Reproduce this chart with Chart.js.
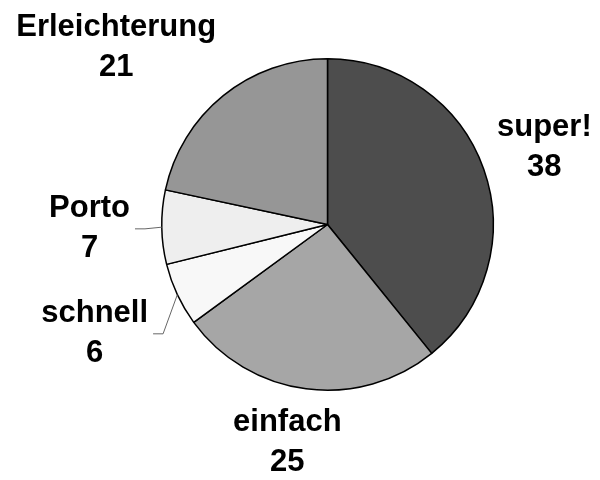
<!DOCTYPE html>
<html>
<head>
<meta charset="utf-8">
<script src="https://cdn.jsdelivr.net/npm/chart.js@4.4.1/dist/chart.umd.min.js"></script>
<style>
  html, body { margin: 0; padding: 0; background: #fff; }
  #wrap { width: 600px; height: 480px; }
</style>
</head>
<body>
<div id="wrap"><canvas id="pie"></canvas></div>
<script>
// Data (clockwise from 12 o'clock)
const categories = ['super!', 'einfach', 'schnell', 'Porto', 'Erleichterung'];
const values = [38, 25, 6, 7, 21];
const sliceColors = ['#4d4d4d', '#a6a6a6', '#f8f8f8', '#eeeeee', '#969696'];

// label placement: distance from centre and angle nudge (degrees)
const labelDist = [230, 222, 257, 238, 276];
const labelNudge = [0, 3, 0, 0, -11];

const FONT = 'bold 31px "Liberation Sans", Arial, sans-serif';

const outsideLabels = {
    id: 'outsideLabels',
    afterDatasetsDraw(chart) {
        const ctx = chart.ctx;
        const meta = chart.getDatasetMeta(0);
        ctx.save();
        ctx.font = FONT;
        ctx.fillStyle = '#000';
        ctx.textAlign = 'center';
        ctx.textBaseline = 'middle';
        meta.data.forEach((arc, i) => {
            const cx = arc.x, cy = arc.y, r = arc.outerRadius;
            const mid = (arc.startAngle + arc.endAngle) / 2 + labelNudge[i] * Math.PI / 180;
            const lx = cx + Math.cos(mid) * labelDist[i];
            const ly = cy + Math.sin(mid) * labelDist[i];
            ctx.fillText(categories[i], lx, ly - 20);
            ctx.fillText(String(values[i]), lx, ly + 20);

            // leader lines for the small slices
            if (values[i] < 10) {
                const realMid = (arc.startAngle + arc.endAngle) / 2;
                const ax = cx + Math.cos(realMid) * r;
                const ay = cy + Math.sin(realMid) * r;
                const w = ctx.measureText(categories[i]).width;
                const startX = lx + w / 2 + 5;
                ctx.strokeStyle = '#666';
                ctx.lineWidth = 1;
                ctx.beginPath();
                ctx.moveTo(startX, ly + 0.5);
                ctx.lineTo(startX + 10, ly + 0.5);
                ctx.lineTo(ax, ay);
                ctx.stroke();
            }
        });
        ctx.restore();
    }
};

new Chart(document.getElementById('pie').getContext('2d'), {
    type: 'pie',
    data: {
        labels: categories,
        datasets: [{
            data: values,
            backgroundColor: sliceColors,
            borderColor: '#000',
            borderWidth: 1.5,
            borderAlign: 'center'
        }]
    },
    options: {
        responsive: true,
        maintainAspectRatio: false,
        animation: false,
        layout: { padding: { left: 161, right: 106, top: 58, bottom: 89 } },
        plugins: {
            legend: { display: false },
            tooltip: { enabled: false }
        }
    },
    plugins: [outsideLabels]
});
</script>
</body>
</html>
